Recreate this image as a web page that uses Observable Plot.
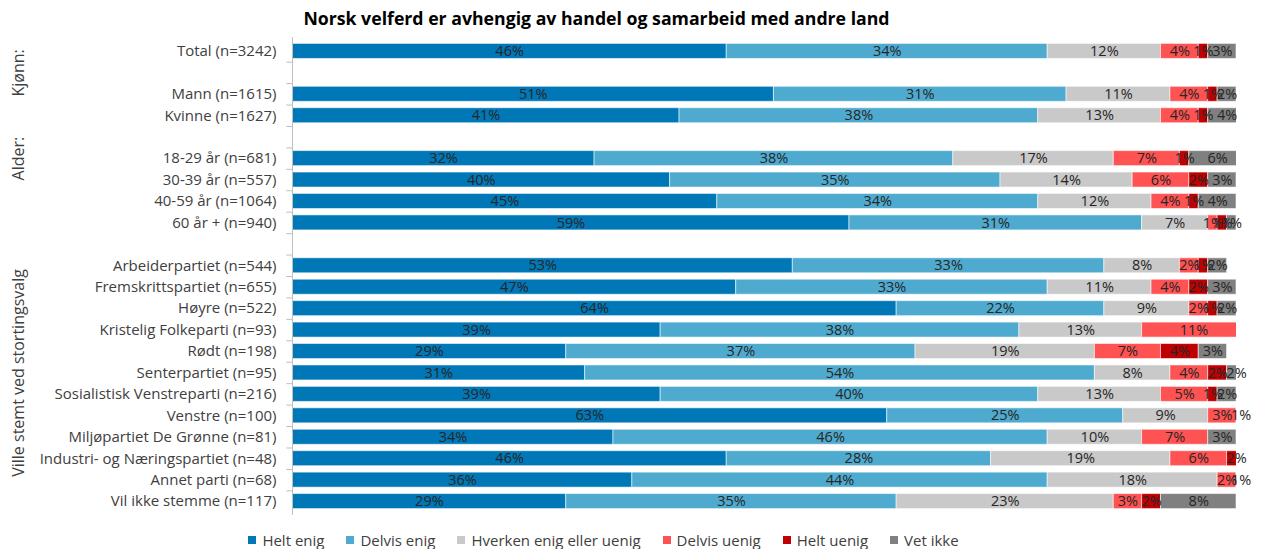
<!DOCTYPE html>
<html>
<head>
<meta charset="utf-8">
<script src="https://cdn.jsdelivr.net/npm/d3@7"></script>
<script src="https://cdn.jsdelivr.net/npm/@observablehq/plot@0.6"></script>
<style>
  html, body { margin: 0; padding: 0; background: #fff; }
  body { position: relative; width: 1262px; height: 549px; overflow: hidden; font-family: "Open Sans", "Noto Sans", sans-serif; }
  #title { position: absolute; top: 0; left: 0; height: 34px; width: 1193px; text-align: center; font-weight: bold; font-size: 17.7px; line-height: 36px; color: #000; }
  #chart { position: absolute; top: 34px; left: 0; height: 486px; }
  #chart svg { display: block; }
  #legend { position: absolute; top: 528px; left: 0; height: 24px; width: 1207px; display: flex; justify-content: center; align-items: center; gap: 22px; font-size: 15px; color: #404040; }
  #legend .item { display: flex; align-items: center; }
  #legend .sw { width: 8px; height: 8px; margin-right: 6px; }
</style>
</head>
<body>
<div id="title">Norsk velferd er avhengig av handel og samarbeid med andre land</div>
<div id="chart"></div>
<div id="legend"></div>
<script>
const categories = [
  "Total (n=3242)", " ",
  "Mann (n=1615)", "Kvinne (n=1627)", "  ",
  "18-29 år (n=681)", "30-39 år (n=557)", "40-59 år (n=1064)", "60 år + (n=940)", "   ",
  "Arbeiderpartiet (n=544)", "Fremskrittspartiet (n=655)", "Høyre (n=522)", "Kristelig Folkeparti (n=93)",
  "Rødt (n=198)", "Senterpartiet (n=95)", "Sosialistisk Venstreparti (n=216)", "Venstre (n=100)",
  "Miljøpartiet De Grønne (n=81)", "Industri- og Næringspartiet (n=48)", "Annet parti (n=68)", "Vil ikke stemme (n=117)"
];
const series = ["Helt enig", "Delvis enig", "Hverken enig eller uenig", "Delvis uenig", "Helt uenig", "Vet ikke"];
const colors = ["#0077b6", "#4eabcf", "#c9c9c9", "#ff5353", "#c00000", "#808080"];

const heltEnig    = [46, null, 51, 41, null, 32, 40, 45, 59, null, 53, 47, 64, 39, 29, 31, 39, 63, 34, 46, 36, 29];
const delvisEnig  = [34, null, 31, 38, null, 38, 35, 34, 31, null, 33, 33, 22, 38, 37, 54, 40, 25, 46, 28, 44, 35];
const hverken     = [12, null, 11, 13, null, 17, 14, 12,  7, null,  8, 11,  9, 13, 19,  8, 13,  9, 10, 19, 18, 23];
const delvisUenig = [ 4, null,  4,  4, null,  7,  6,  4,  1, null,  2,  4,  2, 11,  7,  4,  5,  3,  7,  6,  2,  3];
const heltUenig   = [ 1, null,  1,  1, null,  1,  2,  1,  1, null,  1,  2,  1,  0,  4,  2,  1,  0,  0,  2,  0,  2];
const vetIkke     = [ 3, null,  2,  4, null,  6,  3,  4,  1, null,  2,  3,  2,  0,  3,  2,  2,  1,  3,  0,  1,  8];

const groupLabels = ["Kjønn:", "Alder:", "Ville stemt ved stortingsvalg"];
const groupAnchors = [" ", "18-29 år (n=681)", "Senterpartiet (n=95)"];

const valuesBySeries = [heltEnig, delvisEnig, hverken, delvisUenig, heltUenig, vetIkke];
const data = [];
series.forEach((s, si) => {
  categories.forEach((c, ci) => {
    const v = valuesBySeries[si][ci];
    if (v != null) data.push({cat: c, series: s, value: v});
  });
});
const groups = groupLabels.map((g, i) => ({label: g, cat: groupAnchors[i]}));

const H = 486, MT = 3, MB = 5, PAD = 0.3;
const step = (H - MT - MB) / (categories.length - PAD + 2 * PAD);

const chart = Plot.plot({
  width: 1262,
  height: H,
  marginTop: MT,
  marginBottom: MB,
  marginLeft: 292,
  marginRight: 26,
  style: {fontFamily: "Open Sans, Noto Sans, sans-serif", fontSize: "15px", color: "#404040", background: "#fff"},
  x: {domain: [0, 100], axis: null},
  y: {domain: categories, padding: PAD, round: false, axis: null, label: null},
  color: {domain: series, range: colors},
  marks: [
    Plot.barX(data, Plot.stackX({
      x: "value", y: "cat", z: "series", order: series,
      fill: "series", stroke: "#ffffff", strokeOpacity: 0.55, strokeWidth: 1, clip: true
    })),
    Plot.text(data, Plot.stackX({
      x: "value", y: "cat", z: "series", order: series,
      text: d => d.value > 0 ? d.value + "%" : "",
      fill: "#262626", fontSize: 14.5
    })),
    Plot.ruleX([0], {stroke: "#bfbfbf"}),
    Plot.ruleY(categories.slice(0, -1), {y: d => d, x1: -0.6, x2: 0, dy: step / 2, stroke: "#bfbfbf"}),
    Plot.axisY({tickSize: 0, tickPadding: 16, tickFormat: d => d.trim(), fontSize: 15, fill: "#404040", label: null}),
    Plot.text(groups, {
      y: "cat", text: "label", frameAnchor: "left", dx: -274, rotate: -90,
      fontSize: 16, fill: "#404040", textAnchor: "middle"
    })
  ]
});
document.getElementById("chart").appendChild(chart);

const legend = document.getElementById("legend");
series.forEach((s, i) => {
  const item = document.createElement("div");
  item.className = "item";
  const sw = document.createElement("span");
  sw.className = "sw";
  sw.style.background = colors[i];
  const t = document.createElement("span");
  t.textContent = s;
  item.appendChild(sw);
  item.appendChild(t);
  legend.appendChild(item);
});
</script>
</body>
</html>
